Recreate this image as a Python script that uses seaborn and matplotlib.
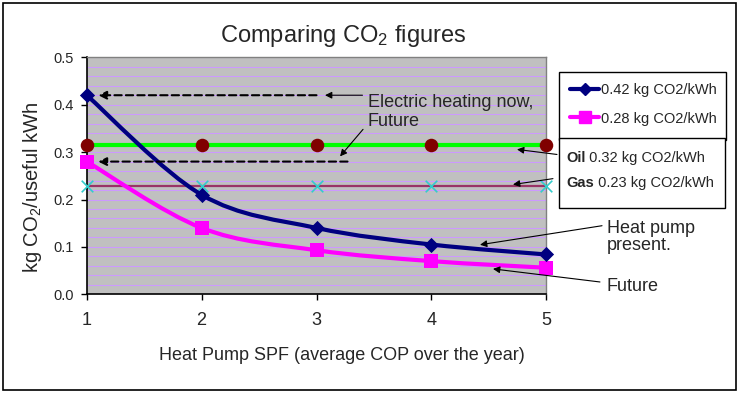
import numpy as np
import pandas as pd
import matplotlib
matplotlib.use("Agg")
import matplotlib.pyplot as plt
import seaborn as sns
from matplotlib.path import Path
from matplotlib.patches import PathPatch, Rectangle
from matplotlib.lines import Line2D
from matplotlib.text import Annotation

# ---- data ----
spf = [1, 2, 3, 4, 5]
hp_present = [0.42, 0.21, 0.14, 0.105, 0.084]
hp_future = [0.28, 0.14, 0.093, 0.07, 0.056]
oil = [0.315, 0.315, 0.315, 0.315, 0.315]
gas = [0.228, 0.228, 0.228, 0.228, 0.228]
legend_labels = ["0.42 kg CO2/kWh", "0.28 kg CO2/kWh"]
oil_label = ("Oil", " 0.32 kg CO2/kWh")
gas_label = ("Gas", " 0.23 kg CO2/kWh")
x_ticks = [1, 2, 3, 4, 5]
y_ticks = [0.0, 0.1, 0.2, 0.3, 0.4, 0.5]

sns.set_style("white")
plt.rcParams["font.family"] = ["Liberation Sans", "DejaVu Sans"]
plt.rcParams["mathtext.fontset"] = "custom"
plt.rcParams["mathtext.rm"] = "Liberation Sans"
plt.rcParams["mathtext.it"] = "Liberation Sans"

W, H = 739, 394
fig = plt.figure(figsize=(W / 100, H / 100), dpi=100)
fig.patch.set_facecolor("white")
L, R, T, B = 86.7, 546.3, 57.3, 294.3
ax = fig.add_axes([L / W, 1 - B / H, (R - L) / W, (B - T) / H])
ax.set_facecolor("#C0C0C0")

NAVY = "#000080"
MAG = "#FF00FF"
LIME = "#00FF00"
MAROON = "#800000"
PLUM = "#993366"
CYAN = "#33CCCC"


def smooth_path(xs, ys):
    pts = np.column_stack([xs, ys]).astype(float)
    n = len(pts)
    verts = [pts[0]]
    codes = [Path.MOVETO]
    for i in range(n - 1):
        p0 = pts[i - 1] if i > 0 else pts[i]
        p1 = pts[i]
        p2 = pts[i + 1]
        p3 = pts[i + 2] if i + 2 < n else pts[i + 1]
        c1 = p1 + (p2 - p0) / 6.0
        c2 = p2 - (p3 - p1) / 6.0
        verts += [c1, c2, p2]
        codes += [Path.CURVE4] * 3
    return Path(verts, codes)


df = pd.DataFrame({"spf": spf, "present": hp_present, "future": hp_future,
                   "oil": oil, "gas": gas})

# gridlines every 0.02
ax.set_yticks(np.arange(0, 0.5001, 0.02), minor=True)
ax.grid(True, which="minor", axis="y", color="#CC99FF", lw=0.75, zorder=0)
ax.grid(True, which="major", axis="y", color="#CC99FF", lw=0.75, zorder=0)
ax.set_axisbelow(True)

# Gas line
sns.lineplot(data=df, x="spf", y="gas", ax=ax, color=PLUM, lw=1.6, zorder=3)
sns.scatterplot(data=df, x="spf", y="gas", ax=ax, marker="x", color=CYAN,
                s=70, linewidth=1.2, zorder=4, clip_on=False)
# Oil line
sns.lineplot(data=df, x="spf", y="oil", ax=ax, color=LIME, lw=3.0, zorder=3)
sns.scatterplot(data=df, x="spf", y="oil", ax=ax, marker="o", color=MAROON,
                s=95, linewidth=0, zorder=4, clip_on=False)

# Smooth heat pump curves
ax.add_patch(PathPatch(smooth_path(spf, hp_future), fill=False, ec=MAG, lw=3.0,
                       zorder=5, capstyle="round"))
ax.add_patch(PathPatch(smooth_path(spf, hp_present), fill=False, ec=NAVY, lw=3.0,
                       zorder=6, capstyle="round"))
sns.scatterplot(data=df, x="spf", y="future", ax=ax, marker="s", color=MAG,
                s=95, linewidth=0, zorder=7, clip_on=False)
sns.scatterplot(data=df, x="spf", y="present", ax=ax, marker="D", color=NAVY,
                s=60, linewidth=0, zorder=8, clip_on=False)

ax.set_xlim(1, 5)
ax.set_ylim(0, 0.5)
ax.set_xticks(x_ticks)
ax.set_xticklabels([str(v) for v in x_ticks], fontsize=13)
ax.set_yticks(y_ticks)
ax.set_yticklabels([f"{v:.1f}" for v in y_ticks], fontsize=10.5)
ax.tick_params(axis="x", which="major", direction="out", length=4, width=1,
               pad=8.5, color="black", bottom=True)
ax.tick_params(axis="y", which="major", direction="out", length=4, width=1,
               pad=5.5, color="black", left=True)
ax.tick_params(axis="y", which="minor", length=0)
ax.set_xlabel("")
ax.set_ylabel("")
for s in ["top", "right"]:
    ax.spines[s].set_color("#808080")
    ax.spines[s].set_linewidth(1.0)
    ax.spines[s].set_visible(True)
for s in ["left", "bottom"]:
    ax.spines[s].set_color("black")
    ax.spines[s].set_linewidth(1.2)
    ax.spines[s].set_visible(True)

# Titles / labels
fig.text(343 / W, 1 - 36 / H, r"Comparing CO$_2$ figures", fontsize=17,
         ha="center", va="center")
fig.text(341.5 / W, 1 - 355 / H, "Heat Pump SPF (average COP over the year)",
         fontsize=13, ha="center", va="center")
fig.text(33 / W, 1 - 187 / H, r"kg CO$_2$/useful kWh", fontsize=14.5,
         rotation=90, ha="center", va="center")

# dashed arrows
dash_kw = dict(arrowstyle="-|>", color="black", lw=1.5, linestyle=(0, (3.5, 2.0)),
               mutation_scale=12, shrinkA=0, shrinkB=0)
ax.annotate("", xy=(1.1, hp_present[0]), xytext=(3.0, hp_present[0]),
            arrowprops=dash_kw, zorder=9)
ax.annotate("", xy=(1.1, hp_future[0]), xytext=(3.27, hp_future[0]),
            arrowprops=dash_kw, zorder=9)

solid_kw = dict(arrowstyle="-|>", color="black", lw=0.8, mutation_scale=10,
                shrinkA=0, shrinkB=0)
for head, tail in [((3.074, 0.42), (3.40, 0.42)),
                   ((3.205, 0.291), (3.405, 0.348)),
                   ((4.745, 0.3057), (5.093, 0.295)),
                   ((4.71, 0.2316), (5.058, 0.244)),
                   ((4.423, 0.1045), (5.485, 0.1447)),
                   ((4.536, 0.0536), (5.467, 0.026))]:
    ax.annotate("", xy=head, xytext=tail, arrowprops=solid_kw, zorder=9,
                annotation_clip=False)

# annotation texts (baseline = last line for multi-line text)
ax.text(3.448, 0.3544, "Electric heating now,\nFuture", fontsize=13,
        ha="left", va="baseline", zorder=10, linespacing=1.2)
ax.text(5.528, 0.0939, "Heat pump\npresent.", fontsize=13, ha="left",
        va="baseline", linespacing=0.95, clip_on=False)
ax.text(5.528, 0.0076, "Future", fontsize=13, ha="left", va="baseline",
        clip_on=False)

# legend box 1 (frame drawn separately so it reaches box 2)
fig.add_artist(Rectangle((559 / W, 1 - 140 / H), 167 / W, 68 / H,
                         transform=fig.transFigure, fc="white", ec="black",
                         lw=1.0, zorder=4))
handles = [Line2D([], [], color=NAVY, lw=3.0, marker="D", markersize=6),
           Line2D([], [], color=MAG, lw=3.0, marker="s", markersize=8)]
leg = fig.legend(handles, legend_labels, loc="upper left",
                 bbox_to_anchor=(559 / W, 1 - 138 / H, 167 / W, 66 / H),
                 mode="expand", fontsize=10.5, frameon=False, borderpad=0.75,
                 labelspacing=1.0, handlelength=2.0, handletextpad=0.15,
                 borderaxespad=0, numpoints=1)
leg.set_zorder(6)

# box 2 (Oil / Gas)
fig.add_artist(Rectangle((558.7 / W, 1 - 208 / H), 166.3 / W, 70 / H,
                         transform=fig.transFigure, fc="white", ec="black",
                         lw=1.0, zorder=20))
for (bold, rest), ypx in [(oil_label, 156), (gas_label, 182)]:
    tb = fig.text(566 / W, 1 - ypx / H, bold, fontsize=10.5, fontweight="bold",
                  ha="left", va="center_baseline", zorder=21)
    ann = Annotation(rest, xy=(1, 0), xycoords=tb, fontsize=10.5,
                     ha="left", va="bottom", zorder=21)
    fig.add_artist(ann)

# outer border
fig.add_artist(Rectangle((3 / W, 1 - 390 / H), 733 / W, 387 / H,
                         transform=fig.transFigure, fill=False, ec="black",
                         lw=1.2, zorder=30))

fig.savefig("out.png", dpi=100)
